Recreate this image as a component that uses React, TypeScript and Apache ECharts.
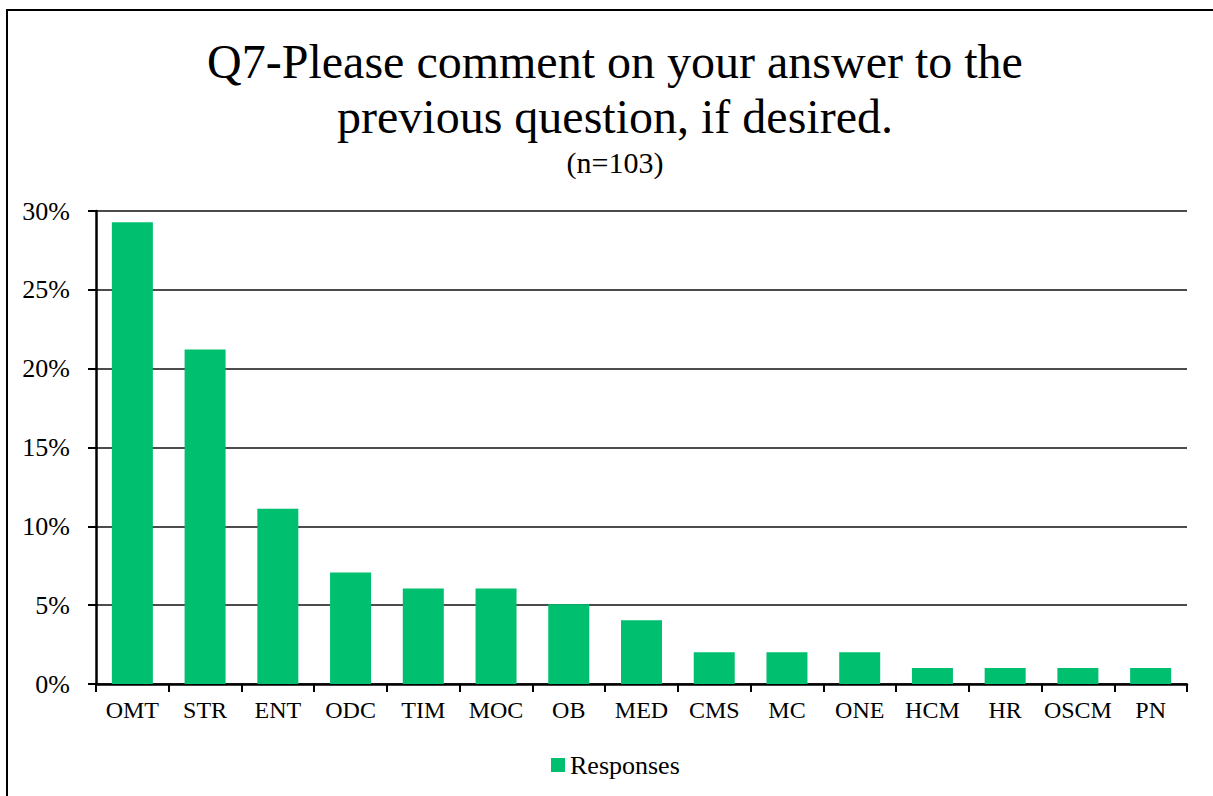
import React, { useEffect, useRef } from "react";
import * as echarts from "echarts";

const categories = ["OMT", "STR", "ENT", "ODC", "TIM", "MOC", "OB", "MED", "CMS", "MC", "ONE", "HCM", "HR", "OSCM", "PN"];
const counts = [29, 21, 11, 7, 6, 6, 5, 4, 2, 2, 2, 1, 1, 1, 1];
const total = 99;
const yTicks = [0, 5, 10, 15, 20, 25, 30];
const seriesName = "Responses";
const titleLines = ["Q7-Please comment on your answer to the", "previous question, if desired."];
const subtitle = "(n=103)";

const FONT = "'Liberation Serif', 'Times New Roman', serif";

export default function App() {
  const ref = useRef<HTMLDivElement>(null);
  useEffect(() => {
    if (!ref.current) return;
    const chart = echarts.init(ref.current, undefined, { renderer: "svg" });
    const values = counts.map((c) => (c / total) * 100);
    chart.setOption({
      animation: false,
      backgroundColor: "#fff",
      title: {
        text: titleLines.join("\n"),
        subtext: subtitle,
        left: 610,
        textAlign: "center",
        top: 29,
        itemGap: 2,
        textStyle: { fontFamily: FONT, fontSize: 48, fontWeight: "normal", color: "#000", lineHeight: 55 },
        subtextStyle: { fontFamily: FONT, fontSize: 30, color: "#000", lineHeight: 32 },
      },
      legend: {
        left: 551,
        top: 752,
        padding: 0,
        itemWidth: 14,
        itemHeight: 14,
        itemGap: 10,
        icon: "rect",
        data: [seriesName],
        textStyle: { fontFamily: FONT, fontSize: 26, color: "#000" },
      },
      grid: { left: 96, right: 26, top: 211, bottom: 112, containLabel: false },
      xAxis: {
        type: "category",
        data: categories,
        axisLine: { lineStyle: { color: "#000", width: 2.5 } },
        axisTick: { show: true, length: 8, lineStyle: { color: "#000", width: 2 } },
        axisLabel: { fontFamily: FONT, fontSize: 24, color: "#000", margin: 14, interval: 0 },
      },
      yAxis: {
        type: "value",
        min: yTicks[0],
        max: yTicks[yTicks.length - 1],
        interval: 5,
        axisLine: { show: true, lineStyle: { color: "#000", width: 2.5 } },
        axisTick: { show: true, length: 8, lineStyle: { color: "#000", width: 2 } },
        axisLabel: { fontFamily: FONT, fontSize: 26, color: "#000", margin: 26, formatter: (v: number) => `${v}%` },
        splitLine: { show: true, lineStyle: { color: "#111", width: 1.6 } },
      },
      series: [
        {
          name: seriesName,
          type: "bar",
          data: values,
          barWidth: 41,
          itemStyle: { color: "#00BF6F" },
        },
      ],
      graphic: [
        {
          type: "rect",
          silent: true,
          shape: { x: 7, y: 10, width: 1400, height: 1000 },
          style: { fill: "none", stroke: "#000", lineWidth: 2 },
          z: 100,
        },
      ],
    });
    return () => chart.dispose();
  }, []);
  return <div ref={ref} style={{ position: "fixed", left: 0, top: 0, width: 1213, height: 796 }} />;
}
